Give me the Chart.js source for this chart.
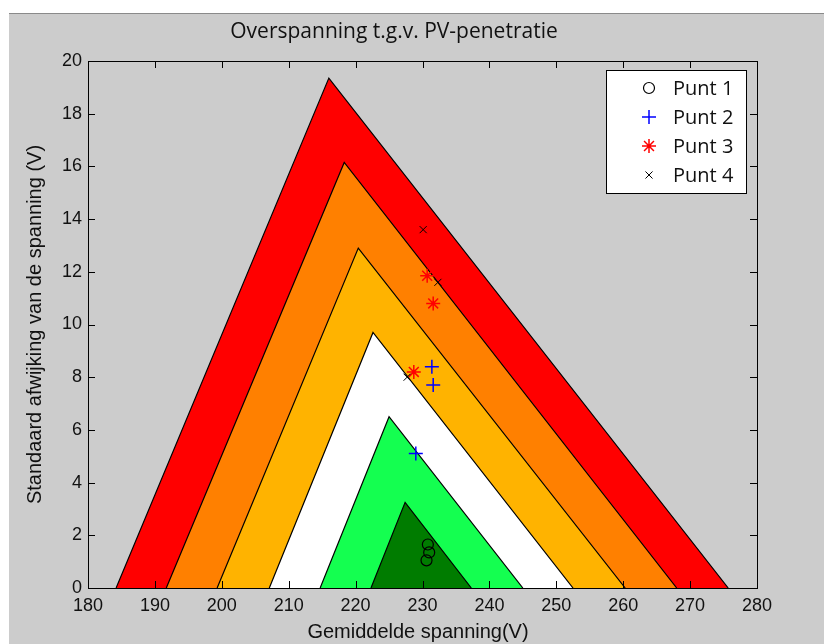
<!DOCTYPE html>
<html>
<head>
<meta charset="utf-8">
<script src="https://cdn.jsdelivr.net/npm/chart.js@4/dist/chart.umd.min.js"></script>
<style>
    html, body { margin: 0; padding: 0; background: #fff; }
    #figuur {
        position: absolute; left: 9px; top: 13px; width: 815px; height: 631px;
        background: #cccccc; border-top: 1px solid #8a8a8a; box-sizing: border-box;
    }
    #wrap { position: absolute; left: 0; top: 0; width: 824px; height: 644px; }
</style>
</head>
<body>
<div id="figuur"></div>
<div id="wrap"><canvas id="grafiek" width="824" height="644"></canvas></div>
<script>
// Zones: linker voetpunt, top (x, y) en rechter voetpunt van elke driehoek
let zoneKleur = ['#ff0000', '#ff8000', '#ffb300', '#ffffff', '#14ff50', '#007c00'];
let zoneLinks = [184.2, 191.7, 199.3, 207.1, 214.7, 222.3];
let zoneTopX = [216.0, 218.3, 220.4, 222.6, 225.0, 227.4];
let zoneTopY = [19.35, 16.15, 12.9, 9.7, 6.5, 3.25];
let zoneRechts = [275.7, 268.0, 260.3, 252.5, 245.0, 237.3];

// Meetpunten
let punt1X = [230.8, 231.0, 230.6];
let punt1Y = [1.65, 1.35, 1.05];
let punt2X = [231.4, 231.6, 229.0];
let punt2Y = [8.4, 7.7, 5.1];
let punt3X = [230.7, 231.6, 228.7];
let punt3Y = [11.85, 10.8, 8.2];
let punt4X = [230.1, 232.3, 227.7];
let punt4Y = [13.6, 11.6, 8.0];

let xTicks = [180, 190, 200, 210, 220, 230, 240, 250, 260, 270, 280];
let yTicks = [0, 2, 4, 6, 8, 10, 12, 14, 16, 18, 20];

let puntStijl = [
    { label: 'Punt 1', x: punt1X, y: punt1Y, pointStyle: 'circle', radius: 5.5, color: '#000000', width: 1.2 },
    { label: 'Punt 2', x: punt2X, y: punt2Y, pointStyle: 'cross', radius: 7, color: '#0000ff', width: 1.5 },
    { label: 'Punt 3', x: punt3X, y: punt3Y, pointStyle: 'star', radius: 7, color: '#ff0000', width: 1.5 },
    { label: 'Punt 4', x: punt4X, y: punt4Y, pointStyle: 'crossRot', radius: 5, color: '#000000', width: 1 }
];

const tekstFont = '"Open Sans", "Noto Sans", sans-serif';
const asFont = '"Liberation Sans", Arial, sans-serif';

function zoneDatasets() {
    // grootste driehoek onderaan, kleinste bovenaan
    return zoneKleur.map((kleur, i) => ({
        type: 'scatter',
        data: [
            { x: zoneLinks[i], y: 0 },
            { x: zoneTopX[i], y: zoneTopY[i] },
            { x: zoneRechts[i], y: 0 }
        ],
        showLine: true,
        fill: 'origin',
        backgroundColor: kleur,
        borderColor: '#000000',
        borderWidth: 1.2,
        pointRadius: 0,
        tension: 0,
        order: 20 - i
    }));
}

function puntDatasets() {
    return puntStijl.map((p, i) => ({
        type: 'scatter',
        label: p.label,
        data: p.x.map((x, k) => ({ x: x, y: p.y[k] })),
        pointStyle: p.pointStyle,
        pointRadius: p.radius,
        pointBorderColor: p.color,
        pointBackgroundColor: 'rgba(0,0,0,0)',
        pointBorderWidth: p.width,
        showLine: false,
        order: 4 - i
    }));
}

function tekenLegendaPunt(ctx, p, x, y) {
    ctx.save();
    ctx.strokeStyle = p.color;
    ctx.fillStyle = 'rgba(0,0,0,0)';
    ctx.lineWidth = p.width;
    Chart.helpers.drawPoint(ctx, { pointStyle: p.pointStyle, radius: p.radius, rotation: 0, borderWidth: p.width }, x, y);
    ctx.restore();
}

// Kader, naar binnen gerichte ticks, titel, aslabels en legenda
const matlabAssen = {
    id: 'matlabAssen',
    afterDatasetsDraw(chart) {
        const ctx = chart.ctx;
        const a = chart.chartArea;
        const xs = chart.scales.x;
        const ys = chart.scales.y;
        ctx.save();
        ctx.strokeStyle = '#000000';
        ctx.lineWidth = 1;
        ctx.strokeRect(Math.round(a.left) + 0.5, Math.round(a.top) + 0.5,
            Math.round(a.right - a.left), Math.round(a.bottom - a.top));
        ctx.beginPath();
        for (let t of xTicks) {
            let px = Math.round(xs.getPixelForValue(t)) + 0.5;
            ctx.moveTo(px, a.bottom); ctx.lineTo(px, a.bottom - 7);
            ctx.moveTo(px, a.top); ctx.lineTo(px, a.top + 7);
        }
        for (let t of yTicks) {
            let py = Math.round(ys.getPixelForValue(t)) + 0.5;
            ctx.moveTo(a.left, py); ctx.lineTo(a.left + 7, py);
            ctx.moveTo(a.right, py); ctx.lineTo(a.right - 7, py);
        }
        ctx.stroke();

        // titel en aslabels
        ctx.fillStyle = '#111111';
        ctx.textAlign = 'center';
        ctx.textBaseline = 'middle';
        ctx.font = '21px ' + tekstFont;
        ctx.fillText('Overspanning t.g.v. PV-penetratie', 394, 32);
        ctx.font = '20px ' + asFont;
        ctx.fillText('Gemiddelde spanning(V)', 418, 632);
        ctx.save();
        ctx.translate(35, (a.top + a.bottom) / 2);
        ctx.rotate(-Math.PI / 2);
        ctx.fillText('Standaard afwijking van de spanning (V)', 0, 0);
        ctx.restore();

        // legenda rechtsboven
        let lx = 606, ly = 70, lw = 140, lh = 123;
        ctx.fillStyle = '#ffffff';
        ctx.fillRect(lx, ly, lw, lh);
        ctx.strokeStyle = '#000000';
        ctx.strokeRect(lx + 0.5, ly + 0.5, lw, lh);
        ctx.font = '20px ' + tekstFont;
        ctx.textAlign = 'left';
        puntStijl.forEach((p, i) => {
            let ry = ly + 18 + i * 29;
            tekenLegendaPunt(ctx, p, lx + 43, ry);
            ctx.fillStyle = '#111111';
            ctx.fillText(p.label, lx + 67, ry + 1);
        });
        ctx.restore();
    }
};

let grafiek = new Chart(document.getElementById('grafiek'), {
    type: 'scatter',
    data: {
        datasets: puntDatasets().concat(zoneDatasets())
    },
    options: {
        responsive: false,
        animation: false,
        layout: { padding: { top: 61, right: 67, left: 0, bottom: 0 } },
        plugins: {
            legend: { display: false },
            title: { display: false },
            tooltip: { enabled: false }
        },
        scales: {
            x: {
                type: 'linear',
                min: 180,
                max: 280,
                afterBuildTicks: (s) => { s.ticks = xTicks.map(v => ({ value: v })); },
                afterFit: (s) => { s.height = 56; },
                grid: { display: false, drawTicks: false },
                border: { display: false },
                ticks: {
                    padding: 7,
                    color: '#111111',
                    font: { family: asFont, size: 18 },
                    maxRotation: 0
                }
            },
            y: {
                type: 'linear',
                min: 0,
                max: 20,
                afterBuildTicks: (s) => { s.ticks = yTicks.map(v => ({ value: v })); },
                afterFit: (s) => { s.width = 88; },
                grid: { display: false, drawTicks: false },
                border: { display: false },
                ticks: {
                    padding: 6,
                    color: '#111111',
                    font: { family: asFont, size: 18 }
                }
            }
        }
    },
    plugins: [matlabAssen]
});
</script>
</body>
</html>
